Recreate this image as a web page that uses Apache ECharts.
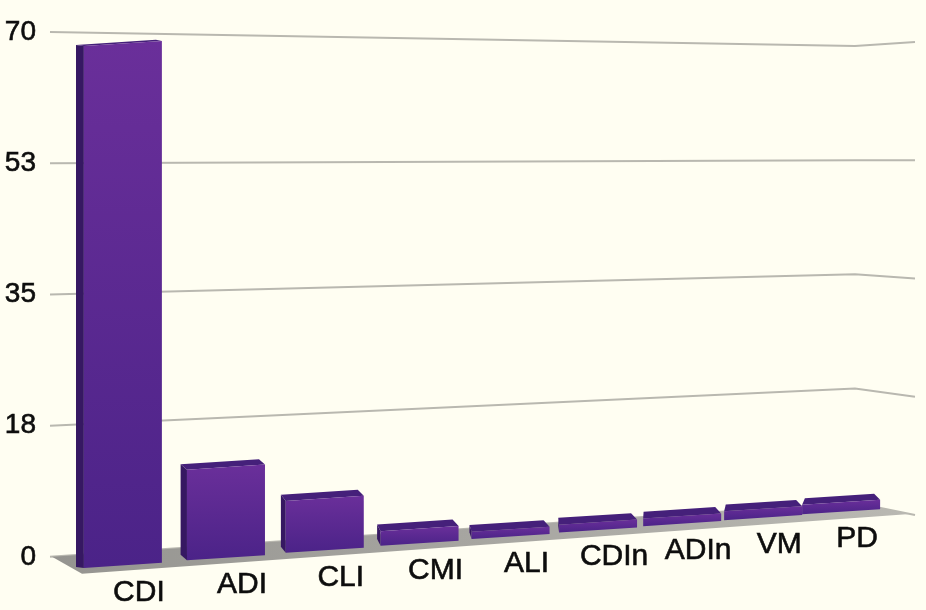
<!DOCTYPE html>
<html>
<head>
<meta charset="utf-8">
<script src="https://cdn.jsdelivr.net/npm/echarts@6/dist/echarts.min.js"></script>
<style>
  html, body { margin: 0; padding: 0; background: #fffef2; }
  #chart { width: 926px; height: 610px; }
</style>
</head>
<body>
<div id="chart"></div>
<script>
var categories = ['CDI', 'ADI', 'CLI', 'CMI', 'ALI', 'CDIn', 'ADIn', 'VM', 'PD'];
var values = [68, 12, 7, 2, 1, 1.1, 1.1, 1.3, 1.4];
var yTicks = [0, 17.5, 35, 52.5, 70];
var yTickLabels = ['0', '18', '35', '53', '70'];
var yMax = 70;

// perspective of the back wall (pixels)
var WALL_LEFT = 48, WALL_CORNER = 855, WALL_END = 915;
var FLOOR_SLOPE = -0.065;
var FONT = '"Liberation Sans", Arial, sans-serif';

function makeWall(api) {
    var top = api.coord([0, yMax])[1];
    return function (x, v) {
        var d = api.coord([0, v])[1] - top;
        if (x <= WALL_CORNER) {
            var t = (x - WALL_LEFT) / (WALL_CORNER - WALL_LEFT);
            return top + 14 * t + d * (1 - 0.13 * t);
        }
        var s = (x - WALL_CORNER) / (WALL_END - WALL_CORNER);
        var a = top + 14 + d * 0.87;
        var b = top + 10 + d * 0.901;
        return a + (b - a) * s;
    };
}

// categories recede to the right
function warp(u) {
    var k = 0.173;
    return u * (1 + k) / (1 + k * u);
}

function renderGridLine(params, api) {
    var wall = makeWall(api);
    var v = api.value(1);
    var xs = [50, WALL_CORNER, WALL_END];
    return {
        type: 'polyline',
        shape: { points: xs.map(function (x) { return [x, wall(x, v)]; }) },
        style: { stroke: '#b9b8b0', lineWidth: 2, fill: null }
    };
}

function renderFloor(params, api) {
    var wall = makeWall(api);
    var p0 = [52, wall(52, 0)];
    var corner = [WALL_CORNER, wall(WALL_CORNER, 0)];
    var tip = [910, wall(910, 0)];
    var front = [p0[0] + 30, p0[1] + 17];
    return {
        type: 'polygon',
        shape: { points: [p0, corner, tip, front] },
        style: {
            fill: new echarts.graphic.LinearGradient(0, 0, 1, 0, [
                { offset: 0, color: '#959490' },
                { offset: 1, color: '#b9b8b2' }
            ])
        }
    };
}

function renderBar(params, api) {
    var wall = makeWall(api);
    var i = api.value(0), v = api.value(1);
    var c0 = api.coord([0, 0])[0];
    var c8 = api.coord([categories.length - 1, 0])[0];
    var u = (api.coord([i, 0])[0] - c0) / (c8 - c0);
    var xc = c0 + (c8 - c0) * warp(u);
    var t = (xc - WALL_LEFT) / (WALL_CORNER - WALL_LEFT);
    var base = wall(xc, 0);
    var yb = base + (14 - 6 * t);
    var scale = (base - wall(xc, 17.5)) / 17.5 * 1.036;
    var yt = yb - v * scale;
    var half = 39;
    var dxL = -9 + 12 * t;
    var dxR = -6;
    var dy = -(yt - wall(xc, 52.5)) * 0.019;
    if (dy > -1.5) dy = -1.5;
    var xl = xc - half, xr = xc + half;
    function p(x, y) { return [x, y + FLOOR_SLOPE * (x - xc)]; }

    var children = [];
    if (dxL < -0.5) {
        children.push({
            type: 'polygon',
            shape: { points: [p(xl, yt), p(xl + dxL, yt + dy), p(xl + dxL, yb + dy), p(xl, yb)] },
            style: { fill: '#361862' }
        });
    }
    children.push({
        type: 'polygon',
        shape: { points: [p(xl, yt), p(xr, yt), p(xr + dxR, yt + dy), p(xl + dxL, yt + dy)] },
        style: { fill: '#45207a' }
    });
    children.push({
        type: 'polygon',
        shape: { points: [p(xl, yt), p(xr, yt), p(xr, yb), p(xl, yb)] },
        style: {
            fill: new echarts.graphic.LinearGradient(0, 0, 0, 1, [
                { offset: 0, color: '#6a2f9a' },
                { offset: 1, color: '#4b2388' }
            ])
        }
    });
    children.push({
        type: 'text',
        style: {
            text: categories[i],
            x: xc + 16,
            y: yb + 27,
            align: 'center',
            verticalAlign: 'middle',
            fontSize: 30,
            fontFamily: FONT,
            fill: '#0d0d0d',
            stroke: '#0d0d0d',
            lineWidth: 0.6
        }
    });
    return { type: 'group', children: children };
}

var chart = echarts.init(document.getElementById('chart'));
var option = {
    backgroundColor: '#fffef2',
    animation: false,
    grid: { left: 78, right: 40, top: 32, bottom: 53 },
    xAxis: {
        type: 'category',
        data: categories,
        axisLabel: { show: false },
        axisLine: { show: false },
        axisTick: { show: false },
        splitLine: { show: false }
    },
    yAxis: {
        type: 'value',
        min: 0,
        max: yMax,
        interval: 17.5,
        axisLine: { show: false },
        axisTick: { show: false },
        splitLine: { show: false },
        axisLabel: {
            margin: 42,
            fontSize: 28,
            fontFamily: FONT,
            color: '#0d0d0d',
            textBorderColor: '#0d0d0d',
            textBorderWidth: 0.6,
            formatter: function (val) {
                var k = yTicks.indexOf(val);
                return k >= 0 ? yTickLabels[k] : '';
            }
        }
    },
    series: [
        { type: 'custom', silent: true, z: 1, data: yTicks.map(function (v) { return [0, v]; }), renderItem: renderGridLine },
        { type: 'custom', silent: true, z: 2, data: [[0, 0]], renderItem: renderFloor },
        { type: 'custom', z: 3, data: values.map(function (v, i) { return [i, v]; }), renderItem: renderBar }
    ]
};
chart.setOption(option);
</script>
</body>
</html>
